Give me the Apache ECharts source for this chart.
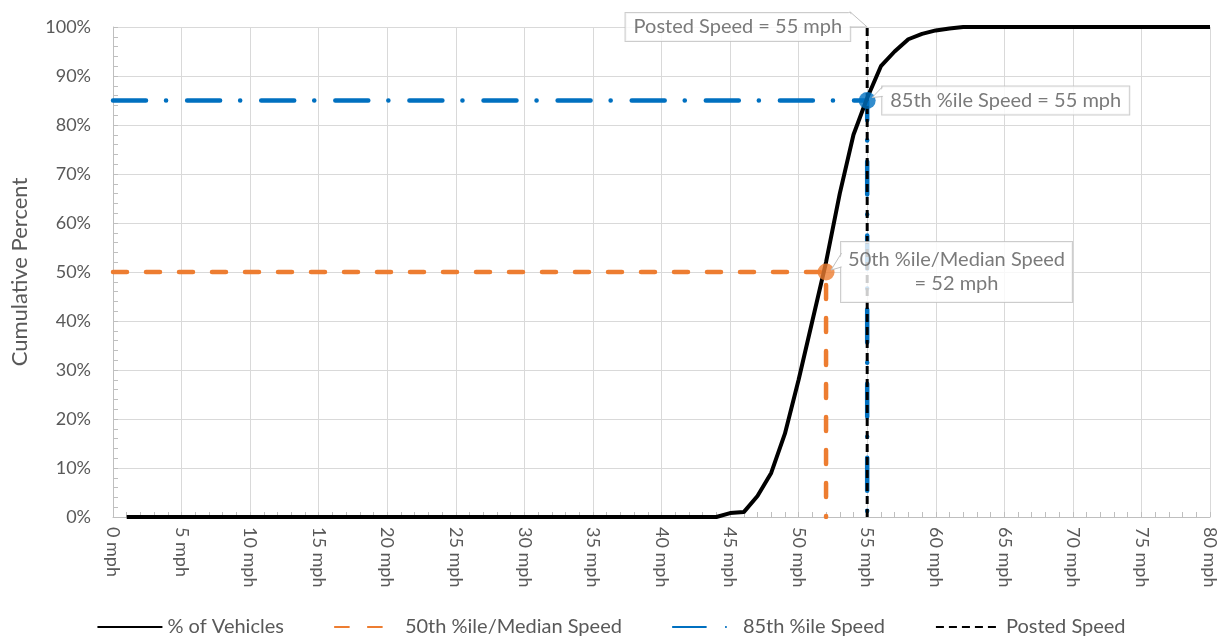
<!DOCTYPE html>
<html><head><meta charset="utf-8">
<script src="https://cdn.jsdelivr.net/npm/echarts@6/dist/echarts.min.js"></script>
<style>html,body{margin:0;padding:0;background:#fff}#c{width:1222px;height:637px}</style>
</head><body><div id="c"></div>
<script>
const speeds = [1,2,3,4,5,6,7,8,9,10,11,12,13,14,15,16,17,18,19,20,21,22,23,24,25,26,27,28,29,30,31,32,33,34,35,36,37,38,39,40,41,42,43,44,45,46,47,48,49,50,51,52,53,54,55,56,57,58,59,60,61,62,63,64,65,66,67,68,69,70,71,72,73,74,75,76,77,78,79,80];
const pctVehicles = [0,0,0,0,0,0,0,0,0,0,0,0,0,0,0,0,0,0,0,0,0,0,0,0,0,0,0,0,0,0,0,0,0,0,0,0,0,0,0,0,0,0,0,0,
  0.8,1.0,4.3,9,17,28,40,52,66,78,85.5,92,95,97.5,98.6,99.3,99.7,
  100,100,100,100,100,100,100,100,100,100,100,100,100,100,100,100,100,100,100];
const medianSpeed = 52, medianPct = 50;
const speed85 = 55, pct85 = 85;
const postedSpeed = 55;
const seriesNames = ['% of Vehicles','50th %ile/Median Speed','85th %ile Speed','Posted Speed'];
const labelPosted = 'Posted Speed = 55 mph';
const label85 = '85th %ile Speed = 55 mph';
const labelMedian1 = '50th %ile/Median Speed', labelMedian2 = '= 52 mph';

const FONT = 'Lato';
const TXT = '#595959';
const BORDER = '#bfbfbf';
const chart = echarts.init(document.getElementById('c'));
const boxLabel = {
  show: true, color: TXT, fontFamily: FONT, fontSize: 20,
  backgroundColor: '#fff', borderColor: BORDER, borderWidth: 1, padding: [4, 8]
};
chart.setOption({
  animation: false,
  textStyle: { fontFamily: FONT },
  grid: { left: 113, right: 12, top: 27, bottom: 120 },
  legend: {
    top: 612, left: 'center', itemWidth: 65, itemHeight: 10, itemGap: 50,
    itemStyle: { opacity: 0 },
    textStyle: { color: TXT, fontSize: 20, fontFamily: FONT },
    data: seriesNames
  },
  xAxis: {
    type: 'value', min: 0, max: 80, interval: 5,
    axisLine: { show: true, lineStyle: { color: BORDER, width: 1 } },
    axisTick: { show: true, inside: true, length: 5, lineStyle: { color: BORDER } },
    minorTick: { show: true, splitNumber: 5, length: 5, lineStyle: { color: BORDER } },
    splitLine: { show: true, lineStyle: { color: '#d9d9d9', width: 1 } },
    axisLabel: { rotate: -90, margin: 10, color: TXT, fontSize: 18, fontFamily: FONT, formatter: '{value} mph' }
  },
  yAxis: {
    type: 'value', min: 0, max: 100, interval: 10,
    name: 'Cumulative Percent', nameLocation: 'middle', nameGap: 82,
    nameTextStyle: { color: TXT, fontSize: 22, fontFamily: FONT },
    axisLine: { show: true, lineStyle: { color: BORDER, width: 1 } },
    axisTick: { show: true, inside: true, length: 5, lineStyle: { color: BORDER } },
    minorTick: { show: true, splitNumber: 5, length: 5, lineStyle: { color: BORDER } },
    splitLine: { show: true, lineStyle: { color: '#d9d9d9', width: 1 } },
    axisLabel: { color: TXT, fontSize: 18, fontFamily: FONT, margin: 22, formatter: '{value}%' }
  },
  series: [
    {
      name: seriesNames[0], type: 'line', symbol: 'none', z: 3,
      data: speeds.map((s, i) => [s, pctVehicles[i]]),
      lineStyle: { color: '#000', width: 4 }, itemStyle: { color: '#000' }
    },
    {
      name: seriesNames[1], type: 'line', symbol: 'none', z: 2,
      data: [[0, medianPct], [medianSpeed, medianPct], [medianSpeed, 0]],
      lineStyle: { color: '#ed7d31', width: 4.5, type: [14, 19], cap: 'round' }, itemStyle: { color: '#ed7d31' }
    },
    {
      name: seriesNames[2], type: 'line', symbol: 'none', z: 2,
      data: [[0, pct85], [speed85, pct85], [speed85, 0]],
      lineStyle: { color: '#0070c0', width: 4.5, type: [33, 20, 0.1, 21], cap: 'round' }, itemStyle: { color: '#0070c0' }
    },
    {
      name: seriesNames[3], type: 'line', symbol: 'none', z: 4,
      data: [[postedSpeed, 0], [postedSpeed, 100]],
      lineStyle: { color: '#000', width: 3, type: [8, 5] }, itemStyle: { color: '#000' }
    },
    {
      type: 'scatter', z: 6, symbolSize: 17,
      data: [
        { value: [medianSpeed, medianPct], itemStyle: { color: '#ed7d31' },
          label: Object.assign({}, boxLabel, { position: 'right', distance: 6.5, padding: [6, 7],
            formatter: '{a|' + labelMedian1 + '}\n{b|' + labelMedian2 + '}',
            rich: { a: { fontSize: 20, color: TXT, fontFamily: FONT, lineHeight: 24 },
                    b: { fontSize: 20, color: TXT, fontFamily: FONT, lineHeight: 24, width: 210, align: 'center' } } }) },
        { value: [speed85, pct85], itemStyle: { color: '#0070c0' },
          label: Object.assign({}, boxLabel, { position: 'right', distance: 6.5, formatter: label85 }) },
        { value: [postedSpeed, 100], symbolSize: 0, itemStyle: { color: 'rgba(0,0,0,0)' },
          label: Object.assign({}, boxLabel, { position: 'left', distance: 17, formatter: labelPosted }) }
      ]
    }
  ]
});

// callout pointers, anchored to the library's pixel positions of the points
function pointer(a, tip, b, cover) {
  return [
    { type: 'polygon', z: 200, shape: { points: [cover[0], tip, cover[1]] }, style: { fill: '#fff', stroke: null } },
    { type: 'polyline', z: 201, shape: { points: [a, tip, b] }, style: { stroke: BORDER, lineWidth: 1, fill: null } }
  ];
}
const pPost = chart.convertToPixel({ gridIndex: 0 }, [postedSpeed, 100]);
const p85 = chart.convertToPixel({ gridIndex: 0 }, [speed85, pct85]);
const pMed = chart.convertToPixel({ gridIndex: 0 }, [medianSpeed, medianPct]);
const g = [];
{ const R = pPost[0] - 17.5, top = pPost[1] - 16;
  g.push(...pointer([R, top + 0.5], [pPost[0], pPost[1]], [R, pPost[1]], [[R - 1, top + 1.5], [R - 1, pPost[1] - 0.5]])); }
{ const L = p85[0] + 15.5;
  g.push(...pointer([L, p85[1] - 14], [p85[0] + 5, p85[1] - 3], [L, p85[1] - 4], [[L + 1, p85[1] - 13], [L + 1, p85[1] - 5]])); }
{ const L = pMed[0] + 15.5;
  g.push(...pointer([L, pMed[1] - 19], [pMed[0] + 5, pMed[1] - 2], [L, pMed[1] - 5], [[L + 1, pMed[1] - 18], [L + 1, pMed[1] - 6]])); }
chart.setOption({ graphic: g });
</script></body></html>
